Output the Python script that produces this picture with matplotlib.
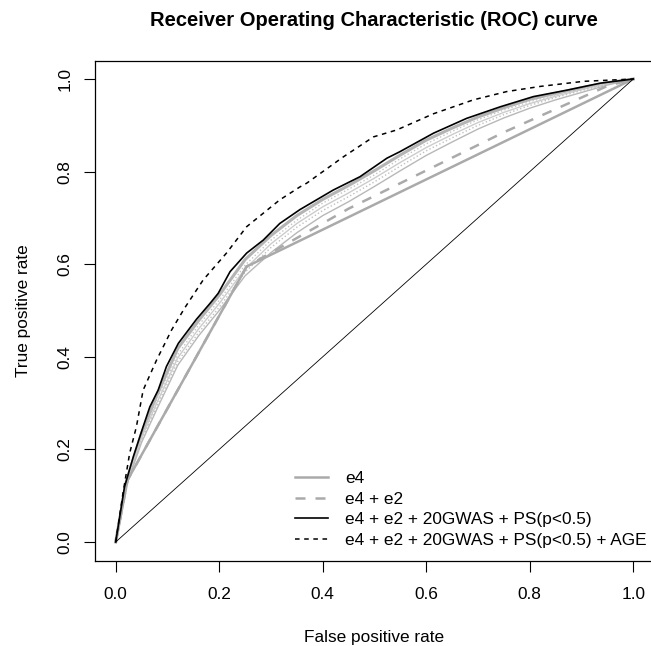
import numpy as np
import matplotlib
matplotlib.use("Agg")
import matplotlib.pyplot as plt

plt.rcParams['font.family'] = ['Liberation Sans', 'DejaVu Sans']

# e4 only (3 cut points)
fpr_e4 = [0, 0.023, 0.253, 1.0]
tpr_e4 = [0, 0.134, 0.595, 1.0]

# e4 + e2
fpr_e4e2 = [0, 0.023, 0.253, 0.45, 0.75, 0.95, 1.0]
tpr_e4e2 = [0, 0.134, 0.595, 0.72, 0.885, 0.985, 1.0]

# e4 + e2 + 20GWAS + PS(p<0.5)
fpr_ps = [0, 0.017, 0.034, 0.053, 0.066, 0.082, 0.098, 0.121, 0.156, 0.182, 0.198,
          0.221, 0.253, 0.285, 0.317, 0.356, 0.42, 0.472, 0.524, 0.549, 0.614,
          0.678, 0.743, 0.807, 0.872, 0.936, 1.0]
tpr_ps = [0, 0.119, 0.184, 0.249, 0.292, 0.328, 0.379, 0.429, 0.481, 0.515, 0.537,
          0.584, 0.624, 0.652, 0.688, 0.718, 0.760, 0.789, 0.829, 0.843, 0.883,
          0.915, 0.940, 0.962, 0.976, 0.991, 1.0]

# e4 + e2 + 20GWAS + PS(p<0.5) + AGE
fpr_age = [0, 0.014, 0.027, 0.040, 0.053, 0.079, 0.108, 0.133, 0.169, 0.214, 0.253,
           0.317, 0.356, 0.369, 0.44, 0.498, 0.543, 0.614, 0.691, 0.756, 0.82,
           0.904, 1.0]
tpr_age = [0, 0.105, 0.192, 0.249, 0.328, 0.393, 0.458, 0.505, 0.566, 0.624, 0.681,
           0.739, 0.767, 0.775, 0.832, 0.875, 0.890, 0.925, 0.955, 0.973, 0.984,
           0.995, 1.0]

# intermediate models (light grey)
fpr_mid = [0, 0.02, 0.05, 0.08, 0.12, 0.16, 0.2, 0.25, 0.3, 0.35, 0.4, 0.45,
           0.5, 0.55, 0.6, 0.65, 0.7, 0.75, 0.8, 0.85, 0.9, 0.95, 1.0]
tpr_mid1 = [0, 0.128, 0.235, 0.318, 0.418, 0.478, 0.533, 0.61, 0.662, 0.705, 0.740, 0.770,
            0.802, 0.836, 0.868, 0.894, 0.918, 0.938, 0.956, 0.969, 0.981, 0.992, 1]
tpr_mid2 = [0, 0.125, 0.228, 0.31, 0.405, 0.468, 0.522, 0.598, 0.652, 0.695, 0.732, 0.762,
            0.793, 0.828, 0.86, 0.887, 0.912, 0.933, 0.951, 0.966, 0.979, 0.991, 1]
tpr_mid3 = [0, 0.124, 0.225, 0.302, 0.398, 0.46, 0.515, 0.59, 0.644, 0.688, 0.724, 0.754,
            0.786, 0.82, 0.852, 0.88, 0.906, 0.928, 0.947, 0.963, 0.977, 0.99, 1]
tpr_mid4 = [0, 0.122, 0.22, 0.295, 0.39, 0.452, 0.507, 0.583, 0.636, 0.68, 0.716, 0.746,
            0.778, 0.812, 0.845, 0.873, 0.9, 0.923, 0.943, 0.96, 0.975, 0.989, 1]
tpr_mid5 = [0, 0.12, 0.215, 0.288, 0.382, 0.445, 0.5, 0.575, 0.625, 0.668, 0.705, 0.735,
            0.768, 0.802, 0.835, 0.864, 0.892, 0.916, 0.937, 0.955, 0.971, 0.987, 1]

labels = ["e4", "e4 + e2", "e4 + e2 + 20GWAS + PS(p<0.5)",
          "e4 + e2 + 20GWAS + PS(p<0.5) + AGE"]
ticks = [0.0, 0.2, 0.4, 0.6, 0.8, 1.0]

fig = plt.figure(figsize=(6.51, 6.46), dpi=100)
ax = fig.add_axes([95/651, 1 - 560.5/646, 559/651, 500/646])

# grey band of intermediate models
ax.plot(fpr_mid, tpr_mid1, color="#b4b4b4", lw=2.2)
ax.plot(fpr_mid, tpr_mid2, color="#c4c4c4", lw=1, ls=":")
ax.plot(fpr_mid, tpr_mid3, color="#cccccc", lw=1)
ax.plot(fpr_mid, tpr_mid4, color="#c0c0c0", lw=1, ls=":")
ax.plot(fpr_mid, tpr_mid5, color="#b8b8b8", lw=1)

l1, = ax.plot(fpr_e4, tpr_e4, color="#aaaaaa", lw=1.8)
l2, = ax.plot(fpr_e4e2, tpr_e4e2, color="#aaaaaa", lw=1.8, ls=(0, (4, 4)))
l3, = ax.plot(fpr_ps, tpr_ps, color="black", lw=1.2)
l4, = ax.plot(fpr_age, tpr_age, color="black", lw=1.1, ls=(0, (3, 3)))
ax.plot([0, 1], [0, 1], color="black", lw=0.6)

ax.set_xlim(-0.04, 1.04)
ax.set_ylim(-0.04, 1.04)
ax.set_xticks(ticks)
ax.set_yticks(ticks)
ax.set_xticklabels(["%.1f" % t for t in ticks])
ax.set_yticklabels(["%.1f" % t for t in ticks], rotation=90, va="center")
ax.tick_params(direction="out", length=8, width=0.8, labelsize=12.4)
ax.tick_params(axis="x", pad=11)
ax.tick_params(axis="y", pad=8)
for s in ax.spines.values():
    s.set_linewidth(0.9)

ax.set_xlabel("False positive rate", fontsize=12.4, labelpad=20)
ax.set_ylabel("True positive rate", fontsize=12.4, labelpad=19)
fig.text(374/651, 1 - 21/646, "Receiver Operating Characteristic (ROC) curve",
         ha="center", va="center", fontsize=14.5, fontweight="bold")

leg = ax.legend([l1, l2, l3, l4], labels, loc="upper left",
                bbox_to_anchor=(295/651, 1 - 471/646), bbox_transform=fig.transFigure,
                frameon=False, fontsize=12.4, handlelength=1.9, handletextpad=1.0,
                labelspacing=0.32, borderpad=0, borderaxespad=0)

fig.savefig("out.png", dpi=100)
